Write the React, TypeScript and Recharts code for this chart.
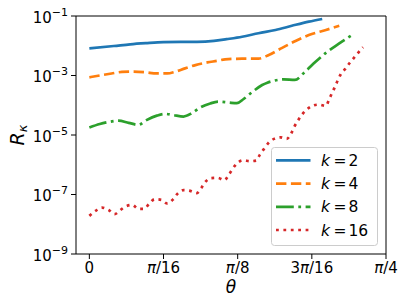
import { LineChart, Line, XAxis, YAxis, Legend, ReferenceArea, Label } from "recharts";

const FONT = "DejaVu Sans";

// theta in units of pi/16, R_kappa
const blueTheta = [0, 0.33, 0.55, 0.78, 1.0, 1.23, 1.45, 1.68, 1.85, 2.06, 2.28, 2.51, 2.73, 2.96, 3.14];
const blueR = [8.2e-3, 9.8e-3, 1.12e-2, 1.23e-2, 1.32e-2, 1.35e-2, 1.35e-2, 1.45e-2, 1.66e-2, 2.0e-2, 2.63e-2, 3.39e-2, 4.68e-2, 6.46e-2, 7.94e-2];

const orangeTheta = [0, 0.14, 0.3, 0.44, 0.59, 0.75, 0.91, 1.05, 1.16, 1.29, 1.43, 1.59, 1.74, 1.83, 2.06, 2.28, 2.42, 2.6, 2.78, 2.96, 3.19, 3.37];
const orangeR = [8.7e-4, 1.0e-3, 1.17e-3, 1.32e-3, 1.35e-3, 1.29e-3, 1.17e-3, 1.17e-3, 1.35e-3, 1.74e-3, 2.24e-3, 2.75e-3, 3.16e-3, 3.5e-3, 3.67e-3, 3.67e-3, 4.9e-3, 8.5e-3, 1.45e-2, 2.29e-2, 3.39e-2, 4.68e-2];

const greenTheta = [0, 0.14, 0.29, 0.39, 0.53, 0.66, 0.77, 0.91, 1.02, 1.13, 1.27, 1.38, 1.49, 1.63, 1.74, 1.88, 1.99, 2.08, 2.19, 2.33, 2.4, 2.5, 2.62, 2.77, 2.91, 3.05, 3.21, 3.36, 3.56];
const greenR = [1.78e-5, 2.34e-5, 2.82e-5, 3.02e-5, 2.57e-5, 2.19e-5, 3.16e-5, 4.47e-5, 5.13e-5, 4.68e-5, 4.17e-5, 5.37e-5, 8.3e-5, 1.15e-4, 1.32e-4, 1.23e-4, 1.17e-4, 1.62e-4, 2.69e-4, 4.79e-4, 5.75e-4, 6.76e-4, 7.41e-4, 7.08e-4, 1.35e-3, 2.88e-3, 6.31e-3, 1.15e-2, 2.43e-2];

const redTheta = [0, 0.09, 0.17, 0.26, 0.34, 0.41, 0.49, 0.58, 0.66, 0.74, 0.81, 0.88, 0.97, 1.05, 1.13, 1.19, 1.27, 1.36, 1.45, 1.51, 1.56, 1.64, 1.73, 1.82, 1.88, 1.93, 1.99, 2.07, 2.17, 2.25, 2.3, 2.36, 2.41, 2.49, 2.58, 2.66, 2.72, 2.76, 2.81, 2.86, 2.92, 3.0, 3.09, 3.19, 3.23, 3.27, 3.31, 3.35, 3.39, 3.45, 3.51, 3.57, 3.63, 3.69];
const redR = [1.91e-8, 2.88e-8, 3.63e-8, 3.02e-8, 2.19e-8, 2.88e-8, 3.98e-8, 4.47e-8, 3.31e-8, 3.31e-8, 5.01e-8, 6.92e-8, 6.61e-8, 5.01e-8, 6.92e-8, 1.07e-7, 1.41e-7, 1.32e-7, 1.12e-7, 1.66e-7, 2.57e-7, 3.55e-7, 3.63e-7, 3.02e-7, 4.57e-7, 7.24e-7, 1.1e-6, 1.41e-6, 1.32e-6, 1.38e-6, 2.19e-6, 3.55e-6, 5.25e-6, 7.41e-6, 8.32e-6, 7.41e-6, 1.1e-5, 1.82e-5, 2.95e-5, 4.57e-5, 6.76e-5, 9.33e-5, 1.05e-4, 9.55e-5, 1.51e-4, 2.51e-4, 4.07e-4, 6.92e-4, 1.1e-3, 1.66e-3, 2.63e-3, 3.98e-3, 6.03e-3, 8.91e-3];

const kValues = [2, 4, 8, 16];
const xTicks = [0, 1, 2, 3, 4];
const xTickLabels = ["0", "π/16", "π/8", "3π/16", "π/4"];
const yTicks = [1e-9, 1e-7, 1e-5, 1e-3, 1e-1];

const toRows = (theta: number[], r: number[]) => theta.map((t, i) => ({ theta: t, r: r[i] }));

const series = [
  { data: toRows(blueTheta, blueR), color: "#1f77b4", dash: undefined },
  { data: toRows(orangeTheta, orangeR), color: "#ff7f0e", dash: "10.4 4.5" },
  { data: toRows(greenTheta, greenR), color: "#2ca02c", dash: "17.8 4.5 2.8 4.5" },
  { data: toRows(redTheta, redR), color: "#d62728", dash: "2.8 4.6" },
];

function YTick(props: any) {
  const { x, y, payload } = props;
  const exp = Math.round(Math.log10(payload.value));
  return (
    <text x={x} y={y + 6.8} textAnchor="end" fontFamily={FONT} fontSize={15} fill="#000">
      10<tspan dy={-7} fontSize={11}>{"\u2212" + Math.abs(exp)}</tspan>
    </text>
  );
}

function XTick(props: any) {
  const { x, y, payload } = props;
  const label = xTickLabels[xTicks.indexOf(payload.value)] ?? "";
  const [pre, post] = label.includes("π") ? label.split("π") : [label, null];
  return (
    <text x={x} y={y + 10.5} textAnchor="middle" fontFamily={FONT} fontSize={15} fill="#000">
      {pre}
      {post !== null && <tspan fontStyle="italic">π</tspan>}
      {post}
    </text>
  );
}

function ThetaLabel(props: any) {
  const vb = props.viewBox;
  return (
    <text x={vb.x + vb.width / 2} y={vb.y + 39} textAnchor="middle" fontFamily={FONT} fontSize={17} fontStyle="italic" fill="#000">
      θ
    </text>
  );
}

function RLabel(props: any) {
  const vb = props.viewBox;
  const cx = vb.x + 24;
  const cy = vb.y + vb.height / 2;
  return (
    <text x={cx} y={cy} transform={`rotate(-90 ${cx} ${cy})`} textAnchor="middle" fontFamily={FONT} fontSize={19} fontStyle="italic" fill="#000">
      R<tspan fontSize={13} dy={3}>κ</tspan>
    </text>
  );
}

function LegendBox() {
  return (
    <svg width={108} height={100} style={{ display: "block" }}>
      <rect x={0.5} y={0.5} width={106} height={98} rx={3} fill="#fff" fillOpacity={0.8} stroke="#cccccc" />
      {kValues.map((k, i) => {
        const cy = 13.4 + i * 23.2;
        return (
          <g key={k}>
            <line x1={5} x2={39.5} y1={cy} y2={cy} stroke={series[i].color} strokeWidth={2.7} strokeDasharray={series[i].dash} />
            <text x={50} y={cy + 5.5} fontFamily={FONT} fontSize={15.5} fill="#000">
              <tspan fontStyle="italic">k</tspan>
              <tspan dx={3.5}>=</tspan>
              <tspan dx={2}>{k}</tspan>
            </text>
          </g>
        );
      })}
    </svg>
  );
}

export default function App() {
  return (
    <div style={{ position: "absolute", left: 0, top: 0, background: "#fff" }}>
      <LineChart width={409} height={307} margin={{ top: 16, right: 23, bottom: 23, left: 0 }}>
        <XAxis
          type="number"
          dataKey="theta"
          domain={[-0.18, 4]}
          allowDataOverflow
          ticks={xTicks}
          interval={0}
          tick={<XTick />}
          tickSize={5}
          tickMargin={3}
          tickLine={{ stroke: "#000" }}
          axisLine={false}
          height={30}
        >
          <Label content={<ThetaLabel />} />
        </XAxis>
        <YAxis
          type="number"
          scale="log"
          domain={[1e-9, 1e-1]}
          allowDataOverflow
          ticks={yTicks}
          interval={0}
          tick={<YTick />}
          tickSize={5}
          tickMargin={3}
          tickLine={{ stroke: "#000" }}
          axisLine={false}
          width={76}
        >
          <Label content={<RLabel />} />
        </YAxis>
        <ReferenceArea x1={-0.18} x2={4} y1={1e-9} y2={1e-1} fill="none" stroke="#000" strokeWidth={1} ifOverflow="visible" />
        {series.map((s, i) => (
          <Line
            key={kValues[i]}
            data={s.data}
            dataKey="r"
            type="monotone"
            stroke={s.color}
            strokeWidth={2.7}
            strokeDasharray={s.dash}
            dot={false}
            activeDot={false}
            isAnimationActive={false}
          />
        ))}
        <Legend
          content={() => <LegendBox />}
          layout="vertical"
          align="center"
          verticalAlign="middle"
          wrapperStyle={{ left: 271, top: 147, width: 108, height: 100 }}
        />
      </LineChart>
    </div>
  );
}
